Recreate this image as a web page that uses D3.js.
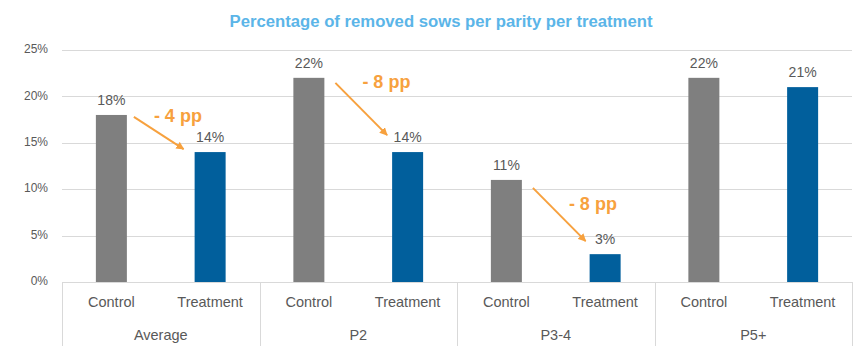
<!DOCTYPE html>
<html>
<head>
<meta charset="utf-8">
<script src="https://cdn.jsdelivr.net/npm/d3@7"></script>
<style>
  body { margin: 0; background: #fff; }
  text { font-family: "Liberation Sans", Arial, sans-serif; }
</style>
</head>
<body>
<div id="chart"></div>
<script>
// data
let groups = ["Average", "P2", "P3-4", "P5+"];
let seriesNames = ["Control", "Treatment"];
let controlValues = [18, 22, 11, 22];
let treatmentValues = [14, 14, 3, 21];
let yTicks = [0, 5, 10, 15, 20, 25];
let dropLabels = ["- 4 pp", "- 8 pp", "- 8 pp", null];

let width = 867, height = 354;
let colors = {"Control": "#7f7f7f", "Treatment": "#015f9c"};

let svg = d3.select("#chart").append("svg")
  .attr("width", width)
  .attr("height", height);

let x0 = d3.scaleBand().domain(groups).range([62, 852]);
let x1 = d3.scaleBand().domain(seriesNames).range([0, x0.bandwidth()]);
let y = d3.scaleLinear().domain([0, 25]).range([282, 50]);
let barW = 31;

// title
svg.append("text")
  .attr("x", 441).attr("y", 27)
  .attr("text-anchor", "middle")
  .attr("textLength", 423).attr("lengthAdjust", "spacingAndGlyphs")
  .style("font-size", "16px").style("font-weight", "bold")
  .style("fill", "#5bb5e8")
  .text("Percentage of removed sows per parity per treatment");

// gridlines
svg.selectAll(".grid").data(yTicks).enter().append("line")
  .attr("class", "grid")
  .attr("x1", 62).attr("x2", 852)
  .attr("y1", function(d){ return Math.round(y(d)) + 0.5; })
  .attr("y2", function(d){ return Math.round(y(d)) + 0.5; })
  .attr("stroke", "#d9d9d9").attr("stroke-width", 1);

// y tick labels
svg.selectAll(".ytick").data(yTicks).enter().append("text")
  .attr("class", "ytick")
  .attr("x", 48)
  .attr("y", function(d){ return y(d); })
  .attr("text-anchor", "end").attr("dominant-baseline", "middle")
  .style("font-size", "12px").style("fill", "#595959")
  .text(function(d){ return d + "%"; });

// category separators below axis
let seps = groups.map(function(g){ return x0(g); }).concat([x0.range()[1]]);
svg.selectAll(".sep").data(seps).enter().append("line")
  .attr("class", "sep")
  .attr("x1", function(d){ return Math.round(d) + 0.5; })
  .attr("x2", function(d){ return Math.round(d) + 0.5; })
  .attr("y1", y(0)).attr("y2", 346)
  .attr("stroke", "#d9d9d9").attr("stroke-width", 1);

// bars
let rows = [];
groups.forEach(function(g, i) {
  rows.push({group: g, series: "Control", value: controlValues[i]});
  rows.push({group: g, series: "Treatment", value: treatmentValues[i]});
});

function cx(d) { return x0(d.group) + x1(d.series) + x1.bandwidth() / 2; }

svg.selectAll(".bar").data(rows).enter().append("rect")
  .attr("class", "bar")
  .attr("x", function(d){ return cx(d) - barW / 2; })
  .attr("y", function(d){ return y(d.value); })
  .attr("width", barW)
  .attr("height", function(d){ return y(0) - y(d.value); })
  .attr("fill", function(d){ return colors[d.series]; });

// data labels
svg.selectAll(".dlabel").data(rows).enter().append("text")
  .attr("class", "dlabel")
  .attr("x", cx)
  .attr("y", function(d){ return y(d.value) - 14; })
  .attr("text-anchor", "middle").attr("dominant-baseline", "middle")
  .style("font-size", "14px").style("fill", "#595959")
  .text(function(d){ return d.value + "%"; });

// series labels
svg.selectAll(".slabel").data(rows).enter().append("text")
  .attr("class", "slabel")
  .attr("x", cx).attr("y", 303)
  .attr("text-anchor", "middle").attr("dominant-baseline", "middle")
  .style("font-size", "14.5px").style("fill", "#595959")
  .text(function(d){ return d.series; });

// group labels
svg.selectAll(".glabel").data(groups).enter().append("text")
  .attr("class", "glabel")
  .attr("x", function(d){ return x0(d) + x0.bandwidth() / 2; })
  .attr("y", 336)
  .attr("text-anchor", "middle").attr("dominant-baseline", "middle")
  .style("font-size", "14.5px").style("fill", "#595959")
  .text(function(d){ return d; });

// drop arrows
let orange = "#f7a13e";
svg.append("defs").append("marker")
  .attr("id", "arrowhead")
  .attr("viewBox", "0 0 10 10")
  .attr("refX", 9).attr("refY", 5)
  .attr("markerWidth", 4).attr("markerHeight", 4)
  .attr("orient", "auto")
  .append("path").attr("d", "M0,0 L10,5 L0,10 z").attr("fill", orange);

let arrowData = [];
groups.forEach(function(g, i) {
  if (!dropLabels[i]) return;
  arrowData.push({group: g, from: controlValues[i], to: treatmentValues[i], label: dropLabels[i]});
});
// small nudges so the arrows and labels sit like the original
let nudges = [
  {sx: 7, sy: 2, ex: -11, ey: -3, lx: 44, ly: 0},
  {sx: 11, sy: 5, ex: -5, ey: -17, lx: 51, ly: 0},
  {sx: 11, sy: 8, ex: -4, ey: -13, lx: 60, ly: 17}
];

arrowData.forEach(function(a, i) {
  let n = nudges[i];
  let ctrlRight = x0(a.group) + x1("Control") + x1.bandwidth() / 2 + barW / 2;
  let trtLeft = x0(a.group) + x1("Treatment") + x1.bandwidth() / 2 - barW / 2;
  let sx = ctrlRight + n.sx, sy = y(a.from) + n.sy;
  let ex = trtLeft + n.ex, ey = y(a.to) + n.ey;
  svg.append("line")
    .attr("x1", sx).attr("y1", sy).attr("x2", ex).attr("y2", ey)
    .attr("stroke", orange).attr("stroke-width", 2)
    .attr("marker-end", "url(#arrowhead)");
  svg.append("text")
    .attr("x", sx + n.lx)
    .attr("y", sy + n.ly)
    .attr("text-anchor", "middle").attr("dominant-baseline", "middle")
    .style("font-size", "18px").style("font-weight", "bold")
    .style("fill", orange)
    .text(a.label);
});
</script>
</body>
</html>
